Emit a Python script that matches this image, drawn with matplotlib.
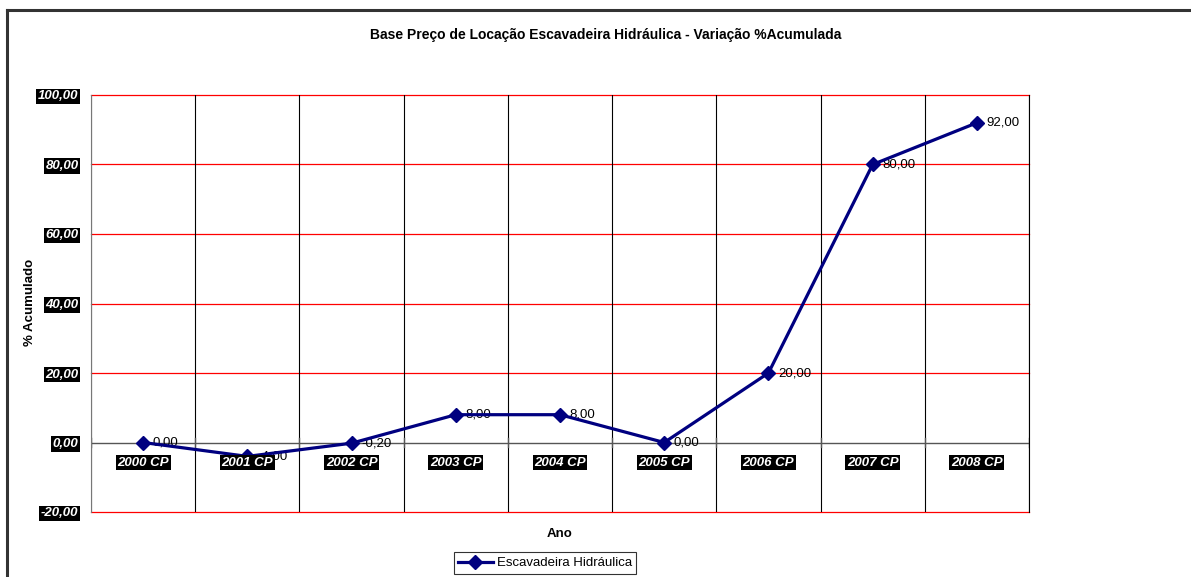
import matplotlib.pyplot as plt
from matplotlib.lines import Line2D

plt.rcParams['font.family'] = ['Liberation Sans', 'DejaVu Sans']

# Variação % acumulada do preço de locação
anos = ['2000 CP', '2001 CP', '2002 CP', '2003 CP', '2004 CP',
        '2005 CP', '2006 CP', '2007 CP', '2008 CP']
variacao = [0.00, -4.00, -0.20, 8.00, 8.00, 0.00, 20.00, 80.00, 92.00]
y_ticks = [-20, 0, 20, 40, 60, 80, 100]

W, H = 1191, 577
fig = plt.figure(figsize=(W / 100, H / 100), dpi=100)

# outer frame of the chart
fig.add_artist(Line2D([7 / W, 1.0], [1 - 10 / H, 1 - 10 / H], color='#333333', lw=2.2))
fig.add_artist(Line2D([7 / W, 7 / W], [0.0, 1 - 10 / H], color='#333333', lw=2.2))

ax = fig.add_axes([91 / W, 65 / H, 938 / W, 417 / H])
n = len(anos)
ax.set_xlim(-0.5, n - 0.5)
ax.set_ylim(-20, 100)

# grid: red horizontals, black verticals between categories
for v in y_ticks:
    if v != 0:
        ax.axhline(v, color='red', lw=0.9, zorder=1, clip_on=False)
for i in range(n + 1):
    ax.axvline(i - 0.5, color='black', lw=0.8, zorder=1)
ax.axhline(0, color='#555555', lw=1.0, zorder=2)
for i in range(n + 1):
    ax.plot([i - 0.5, i - 0.5], [-1.2, 1.2], color='#555555', lw=1.0, zorder=2)

for s in ['top', 'bottom']:
    ax.spines[s].set_visible(False)
ax.spines['left'].set_color('#777777')
ax.spines['right'].set_color('black')

ax.plot(range(n), variacao, color='#000080', lw=2.3, marker='D', ms=7.5,
        zorder=4, label='Escavadeira Hidráulica')

for i, v in enumerate(variacao):
    ax.annotate(f'{v:.2f}'.replace('.', ','), (i, v), xytext=(7, 0),
                textcoords='offset points', va='center', ha='left',
                fontsize=9.5, color='black', zorder=3)

# category labels sit just under the zero line
for i, a in enumerate(anos):
    ax.annotate(a, (i, 0), xytext=(0, -14.4), textcoords='offset points',
                ha='center', va='center', fontsize=9.5, fontweight='bold',
                fontstyle='italic', color='white', zorder=5,
                bbox=dict(boxstyle='square,pad=0.12', fc='black', ec='none'))

ax.set_xticks([])
ax.set_yticks(y_ticks)
ax.set_yticklabels([f'{v:.2f}'.replace('.', ',') for v in y_ticks],
                   fontsize=9.5, fontweight='bold', fontstyle='italic', color='white')
ax.tick_params(axis='y', length=0, pad=9)
plt.setp(ax.get_yticklabels(),
         bbox=dict(boxstyle='square,pad=0.12', fc='black', ec='none'))

fig.text(606 / W, 1 - 35 / H,
         'Base Preço de Locação Escavadeira Hidráulica - Variação %Acumulada',
         ha='center', va='center', fontsize=10, fontweight='bold')
fig.text(30 / W, 1 - 302 / H, '% Acumulado', rotation=90, ha='center',
         va='center', fontsize=9.5, fontweight='bold')
fig.text(560 / W, 1 - 534 / H, 'Ano', ha='center', va='center',
         fontsize=9.5, fontweight='bold')

leg = fig.legend(loc='center', bbox_to_anchor=(545 / W, 1 - 563 / H),
                 fontsize=9.5, frameon=True, fancybox=False, handlelength=2.6,
                 borderpad=0.35, handletextpad=0.3)
leg.get_frame().set_edgecolor('black')
leg.get_frame().set_linewidth(0.8)

fig.savefig('out.png', dpi=100)
